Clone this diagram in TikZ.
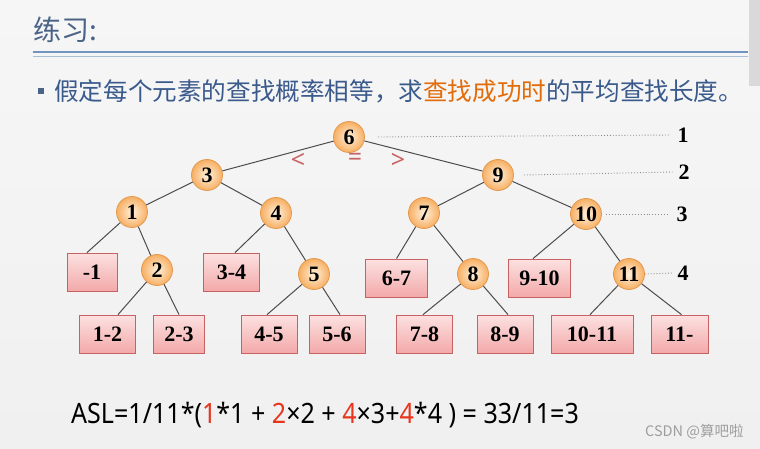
\documentclass[tikz,border=0pt]{standalone}
\usepackage{fontspec}
\setmainfont{Liberation Serif}
\newfontfamily\cjk{Noto Sans CJK SC}
\newfontfamily\aslfont{Noto Sans}
\usetikzlibrary{calc}

\definecolor{slidebg}{HTML}{F0F0F0}
\definecolor{titleblue}{HTML}{4A6387}
\definecolor{textblue}{HTML}{3A5A8C}
\definecolor{hlorange}{HTML}{E36C0A}
\definecolor{ruleblue}{HTML}{7393C0}
\definecolor{rulelight}{HTML}{A9BCD8}
\definecolor{keyin}{HTML}{FFF1DE}
\definecolor{keyout}{HTML}{F7AF62}
\definecolor{keyedge}{HTML}{E39A50}
\definecolor{leaftop}{HTML}{FCE1E1}
\definecolor{leafbot}{HTML}{F3A9A9}
\definecolor{leafedge}{HTML}{C86262}
\definecolor{cmpred}{HTML}{C86464}
\definecolor{aslred}{HTML}{E8361E}

\begin{document}
\begin{tikzpicture}[x=1pt, y=-1pt,
    key/.style={circle, draw=keyedge, line width=0.8pt, inner color=keyin, outer color=keyout,
        minimum size=31pt, inner sep=0pt, font=\fontsize{22}{22}\selectfont\bfseries},
    leaf/.style={rectangle, draw=leafedge, line width=0.8pt, top color=leaftop, bottom color=leafbot,
        minimum width=56pt, minimum height=38pt, inner sep=0pt, font=\fontsize{22}{22}\selectfont\bfseries},
    branch/.style={draw=black!70, line width=1pt},
    levelline/.style={draw=black!45, dotted, line width=0.9pt},
    levelno/.style={inner sep=2pt, font=\fontsize{22}{22}\selectfont\bfseries},
    cmp/.style={text=cmpred, font=\aslfont\fontsize{25}{25}\selectfont}
]

    % Slide background
    \useasboundingbox (0,0) rectangle (760,449);
    \shade[top color=slidebg!60!white, bottom color=slidebg] (0,0) rectangle (760,449);
    \fill[black!15] (749,0) rectangle (760,86);

    % Title and rules
    \node[anchor=west, inner sep=0pt, text=titleblue, font=\cjk\fontsize{28}{28}\selectfont] (title) at (33,30) {练习:};
    \draw[ruleblue, line width=1.6pt] (33,52) -- (748,52);
    \draw[rulelight, line width=1pt] (33,57) -- (748,57);

    % Question
    \fill[titleblue] (38,88) rectangle (44,94);
    \node[anchor=west, inner sep=0pt, text=textblue, font=\cjk\fontsize{24.6}{24.6}\selectfont] (question) at (54,91)
        {假定每个元素的查找概率相等，求\textcolor{hlorange}{查找成功时}的平均查找长度。};

    % Draw key nodes
    \node[key] (n6) at (349,137) {6};
    \node[key] (n3) at (207,175) {3};
    \node[key] (n9) at (498,175) {9};
    \node[key] (n1) at (132,212) {1};
    \node[key] (n4) at (276,213) {4};
    \node[key] (n7) at (424,213) {7};
    \node[key] (n10) at (586,214) {10};
    \node[key] (n2) at (157,270) {2};
    \node[key] (n5) at (314,274) {5};
    \node[key] (n8) at (473,274) {8};
    \node[key] (n11) at (629,274) {11};

    % Draw failure boxes
    \node[leaf, minimum width=50pt] (fm1) at (92,272) {-1};
    \node[leaf] (f34) at (231.5,272) {3-4};
    \node[leaf, minimum width=62pt] (f67) at (396.5,278) {6-7};
    \node[leaf, minimum width=62pt] (f910) at (539.5,278) {9-10};
    \node[leaf] (f12) at (107.5,334) {1-2};
    \node[leaf, minimum width=51pt] (f23) at (179,334) {2-3};
    \node[leaf] (f45) at (269,334) {4-5};
    \node[leaf] (f56) at (337,334) {5-6};
    \node[leaf] (f78) at (424.5,334) {7-8};
    \node[leaf] (f89) at (505,334) {8-9};
    \node[leaf, minimum width=82pt] (f1011) at (592,334) {10-11};
    \node[leaf, minimum width=57pt] (f11x) at (679.5,334) {11-};

    % Draw branches
    \draw[branch] (n6) -- (n3);
    \draw[branch] (n6) -- (n9);
    \draw[branch] (n3) -- (n1);
    \draw[branch] (n3) -- (n4);
    \draw[branch] (n9) -- (n7);
    \draw[branch] (n9) -- (n10);
    \draw[branch] (n1) -- ([xshift=-5pt]fm1.north);
    \draw[branch] (n1) -- (n2);
    \draw[branch] (n4) -- ([xshift=3.5pt]f34.north);
    \draw[branch] (n4) -- (n5);
    \draw[branch] (n7) -- (f67.north);
    \draw[branch] (n7) -- (n8);
    \draw[branch] (n10) -- ([xshift=-6.5pt]f910.north);
    \draw[branch] (n10) -- (n11);
    \draw[branch] (n2) -- ([xshift=10.5pt]f12.north);
    \draw[branch] (n2) -- (f23.north);
    \draw[branch] (n5) -- ([xshift=-2pt]f45.north);
    \draw[branch] (n5) -- ([xshift=3pt]f56.north);
    \draw[branch] (n8) -- ([xshift=-1.5pt]f78.north);
    \draw[branch] (n8) -- ([xshift=3pt]f89.north);
    \draw[branch] (n11) -- ([xshift=-2pt]f1011.north);
    \draw[branch] (n11) -- ([xshift=2pt]f11x.north);

    % Comparison marks under the root
    \node[cmp] (less) at (298,161) {<};
    \node[cmp] (equal) at (355,159) {=};
    \node[cmp] (greater) at (398,161) {>};

    % Level numbers
    \node[levelno] (lv1) at (683,135) {1};
    \node[levelno] (lv2) at (684,172) {2};
    \node[levelno] (lv3) at (682,214) {3};
    \node[levelno] (lv4) at (683,273) {4};
    \draw[levelline] ([xshift=13pt]n6.east) -- ([xshift=-5pt]lv1.west);
    \draw[levelline] ([xshift=10pt]n9.east) -- ([xshift=-3pt]lv2.west);
    \draw[levelline] ([xshift=4pt]n10.east) -- ([xshift=-5pt]lv3.west);
    \draw[levelline] (n11.east) -- ([xshift=-3pt]lv4.west);

    % Average search length
    \node[anchor=west, inner sep=0pt, font=\aslfont\fontsize{28}{28}\selectfont] (asl) at (71,415)
        {\scalebox{0.895}[1]{ASL=1/11*(\textcolor{aslred}{1}*1 + \textcolor{aslred}{2}×2 + \textcolor{aslred}{4}×3+\textcolor{aslred}{4}*4 ) = 33/11=3}};

    % Watermark
    \node[anchor=west, inner sep=0pt, text=black!38, font=\cjk\fontsize{14.5}{14.5}\selectfont] (mark) at (645,432) {CSDN @算吧啦};

\end{tikzpicture}
\end{document}
